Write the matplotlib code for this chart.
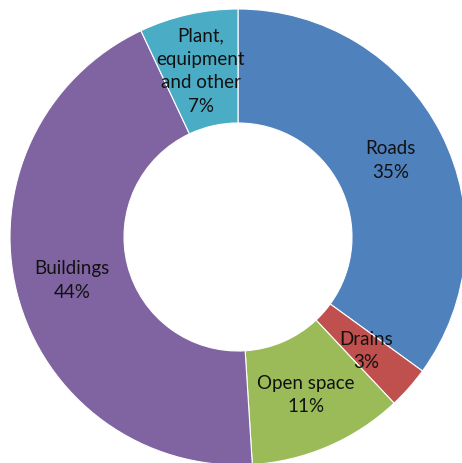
import numpy as np
import matplotlib.pyplot as plt

# Share of total cost by category
labels = ['Roads', 'Drains', 'Open space', 'Buildings', 'Plant,\nequipment\nand other']
shares = [35, 3, 11, 44, 7]
colors = ['#4F81BD', '#C0504D', '#9BBB59', '#8064A2', '#4BACC6']

W, H = 462, 464
cx, cy, r_px = 238, 238, 228

fig = plt.figure(figsize=(W / 100, H / 100), dpi=100)
ax = fig.add_axes([0, 0, 1, 1])

ring = 0.5
wedges, _ = ax.pie(shares, colors=colors, startangle=90, counterclock=False,
                   radius=1.0, wedgeprops=dict(width=ring, edgecolor='white', linewidth=0.8))

# label each wedge in the middle of the ring
total = sum(shares)
start = 90.0
for lab, val in zip(labels, shares):
    mid = np.deg2rad(start - 360.0 * val / total / 2)
    start -= 360.0 * val / total
    rr = 1.0 - ring / 2
    ax.text(rr * np.cos(mid), rr * np.sin(mid), f'{lab}\n{val}%',
            ha='center', va='center', fontsize=13.5, family='Lato',
            color='#111111', linespacing=1.45)

ax.set_xlim(-cx / r_px, (W - cx) / r_px)
ax.set_ylim((cy - H) / r_px, cy / r_px)
ax.set_aspect('auto')
ax.axis('off')

fig.savefig('out.png', dpi=100, facecolor='white')
